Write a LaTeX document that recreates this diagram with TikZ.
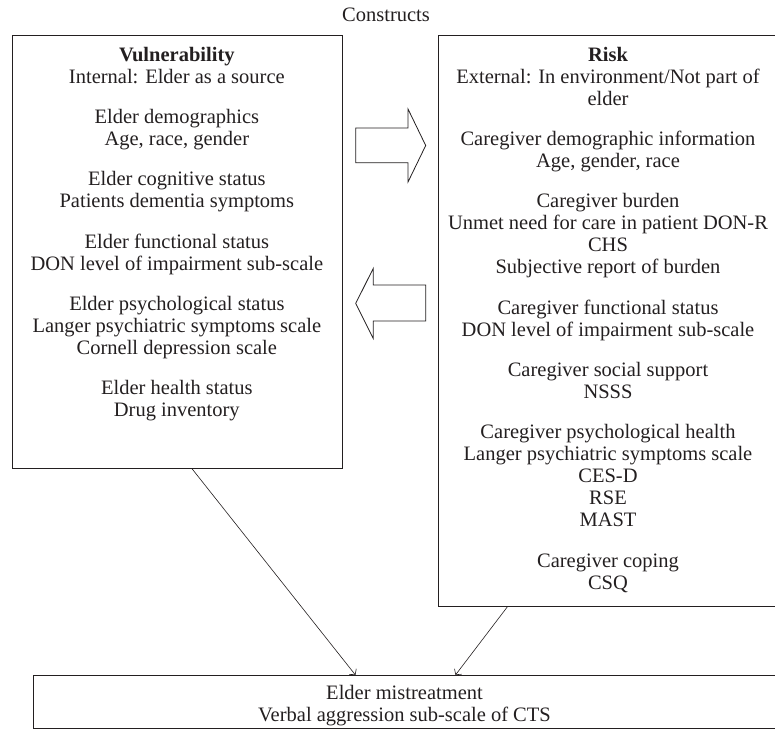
\documentclass[tikz,border=0pt]{standalone}
\usepackage{fontspec}
\setmainfont{Liberation Serif}
\usetikzlibrary{arrows.meta,calc}
\definecolor{ink}{HTML}{231F20}
\tikzset{
  box/.style={draw=ink, line width=0.9pt, inner sep=0pt, anchor=north west},
  txt/.style={text=ink, inner sep=0pt, anchor=north, align=center, font=\fontsize{20.5}{22}\selectfont},
  conn/.style={draw=ink, line width=0.6pt, -{Straight Barb[length=4pt,width=9pt]}},
  blockarrow/.style={draw=ink, line width=0.8pt, fill=white, line join=miter}
}
\begin{document}
\begin{tikzpicture}[x=1pt,y=-1pt]
\useasboundingbox (0,0) rectangle (775,729);

\node[txt] (title) at (386,6.3) {\strut Constructs};

\node[box, minimum width=330.3pt, minimum height=433pt] (vul) at (11.7,35) {};
\node[txt] (vultxt) at (176.85,45.6) {\strut\textbf{Vulnerability}\\
Internal: Elder as a source\\[18.3pt]
Elder demographics\\
Age, race, gender\\[18.3pt]
Elder cognitive status\\
Patients dementia symptoms\\[18.3pt]
Elder functional status\\
DON level of impairment sub-scale\\[18.3pt]
Elder psychological status\\
Langer psychiatric symptoms scale\\
Cornell depression scale\\[18.3pt]
Elder health status\\
Drug inventory};

\node[box, minimum width=339.7pt, minimum height=571pt] (risk) at (438.3,35) {};
\node[txt] (risktxt) at (608,45.6) {\strut\textbf{Risk}\\
External: In environment/Not part of\\
elder\\[18.3pt]
Caregiver demographic information\\
Age, gender, race\\[18.3pt]
Caregiver burden\\
Unmet need for care in patient DON-R\\
CHS\\
Subjective report of burden\\[18.3pt]
Caregiver functional status\\
DON level of impairment sub-scale\\[18.3pt]
Caregiver social support\\
NSSS\\[18.3pt]
Caregiver psychological health\\
Langer psychiatric symptoms scale\\
CES-D\\
RSE\\
MAST\\[18.3pt]
Caregiver coping\\
CSQ};

\node[box, minimum width=743pt, minimum height=53.3pt] (mis) at (33,675) {};
\node[txt] (mistxt) at (404.5,683.6) {\strut Elder mistreatment\\
Verbal aggression sub-scale of CTS};

% block arrows
\draw[blockarrow] (355.7,128) -- (408,128) -- (408,109) -- (425.7,145.5) -- (408,182) -- (408,162.7) -- (355.7,162.7) -- cycle;
\draw[blockarrow] (425.7,285) -- (373.3,285) -- (373.3,268.3) -- (355.7,303.4) -- (373.3,338.5) -- (373.3,321) -- (425.7,321) -- cycle;

% connectors
\draw[conn] ([xshift=14.85pt]vul.south) -- ([xshift=-49.5pt]mis.north);
\draw[conn] ([xshift=-101.3pt]risk.south) -- ([xshift=50.5pt]mis.north);
\end{tikzpicture}
\end{document}
